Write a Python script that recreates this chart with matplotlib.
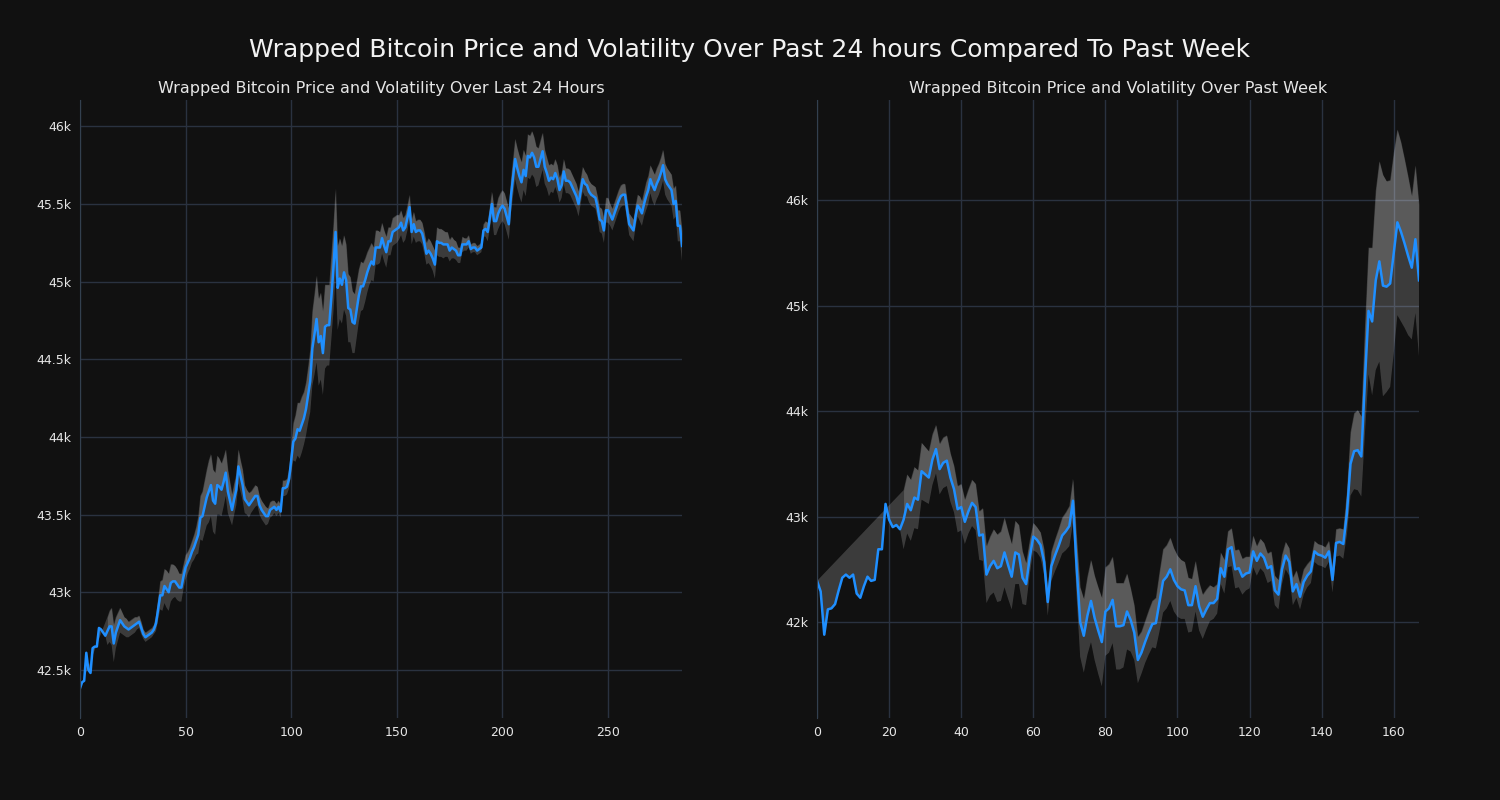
import numpy as np
import matplotlib
matplotlib.use("Agg")
import matplotlib.pyplot as plt
from matplotlib.ticker import MultipleLocator, FuncFormatter

nan = np.nan

# price in thousands of USD, 5-minute steps over the last 24 hours
day_price = [
    42.38, 42.42, 42.43, 42.61, 42.50, 42.48, 42.64, 42.65, 42.65, 42.77,
    42.76, 42.74, 42.72, 42.75, 42.78, 42.78, 42.67, 42.74, 42.78, 42.82,
    42.80, 42.78, 42.77, 42.76, 42.77, 42.78, 42.79, 42.80, 42.81, 42.77,
    42.73, 42.71, 42.72, 42.73, 42.74, 42.76, 42.80, 42.89, 42.98, 42.98,
    43.04, 43.02, 43.00, 43.06, 43.07, 43.07, 43.05, 43.03, 43.03, 43.10,
    43.16, 43.19, 43.22, 43.26, 43.29, 43.33, 43.37, 43.48, 43.49, 43.55,
    43.61, 43.65, 43.69, 43.59, 43.57, 43.69, 43.68, 43.66, 43.71, 43.77,
    43.65, 43.59, 43.53, 43.60, 43.66, 43.81, 43.75, 43.69, 43.60, 43.58,
    43.56, 43.58, 43.60, 43.62, 43.62, 43.56, 43.53, 43.51, 43.49, 43.49,
    43.53, 43.54, 43.55, 43.53, 43.55, 43.52, 43.67, 43.67, 43.68, 43.73,
    43.85, 43.97, 43.99, 44.05, 44.04, 44.08, 44.12, 44.18, 44.27, 44.36,
    44.57, 44.66, 44.76, 44.61, 44.65, 44.54, 44.71, 44.72, 44.72, 44.90,
    45.09, 45.32, 44.96, 45.02, 44.98, 45.06, 45.01, 44.83, 44.82, 44.74,
    44.73, 44.82, 44.91, 44.97, 44.97, 45.01, 45.06, 45.10, 45.13, 45.11,
    45.22, 45.22, 45.22, 45.28, 45.23, 45.19, 45.26, 45.26, 45.32, 45.33,
    45.34, 45.35, 45.38, 45.33, 45.35, 45.41, 45.48, 45.32, 45.37, 45.32,
    45.33, 45.33, 45.31, 45.25, 45.18, 45.20, 45.18, 45.15, 45.11, 45.26,
    45.25, 45.25, 45.24, 45.24, 45.24, 45.20, 45.22, 45.21, 45.20, 45.17,
    45.17, 45.24, 45.24, 45.24, 45.26, 45.21, 45.22, 45.22, 45.20, 45.21,
    45.22, 45.33, 45.34, 45.32, 45.41, 45.50, 45.39, 45.39, 45.44, 45.47,
    45.49, 45.47, 45.42, 45.37, 45.55, 45.67, 45.79, 45.73, 45.68, 45.64,
    45.72, 45.68, 45.81, 45.80, 45.83, 45.80, 45.74, 45.74, 45.79, 45.84,
    45.74, 45.70, 45.65, 45.67, 45.66, 45.70, 45.66, 45.59, 45.62, 45.71,
    45.65, 45.65, 45.64, 45.61, 45.58, 45.55, 45.50, 45.58, 45.66, 45.63,
    45.62, 45.58, 45.56, 45.55, 45.54, 45.48, 45.40, 45.39, 45.33, 45.46,
    45.46, 45.43, 45.40, 45.44, 45.48, 45.52, 45.55, 45.56, 45.56, 45.46,
    45.37, 45.35, 45.33, 45.42, 45.49, 45.47, 45.44, 45.50, 45.55, 45.59,
    45.66, 45.62, 45.59, 45.63, 45.66, 45.70, 45.75, 45.66, 45.63, 45.61,
    45.59, 45.50, 45.52, 45.36, 45.36, 45.23,
]

day_vol = [
    nan, nan, nan, nan, nan, nan, nan, nan, nan, nan, nan, nan, nan,
    0.09, 0.10, 0.12, 0.12, 0.10, 0.09, 0.08, 0.07,
    0.06, 0.06, 0.05, 0.05, 0.05, 0.05, 0.04, 0.04, 0.04, 0.03, 0.03, 0.03, 0.03, 0.03, 0.03,
    0.05, 0.07, 0.09, 0.10, 0.11, 0.12, 0.12, 0.12, 0.11, 0.10,
    0.10, 0.09, 0.09, 0.08, 0.08, 0.07, 0.07, 0.07, 0.08, 0.09,
    0.12, 0.14, 0.16, 0.17, 0.18, 0.20, 0.20, 0.20, 0.20, 0.19, 0.18, 0.17, 0.16, 0.15, 0.14,
    0.12, 0.10, 0.10, 0.10, 0.11, 0.10, 0.10, 0.09,
    0.08, 0.08, 0.07, 0.07, 0.07, 0.06, 0.06, 0.06, 0.06, 0.06, 0.05, 0.05, 0.05, 0.04, 0.04,
    0.04, 0.04,
    0.05, 0.05, 0.05, 0.06, 0.08,
    0.12, 0.15, 0.17, 0.18, 0.18, 0.17, 0.17, 0.18,
    0.20, 0.24, 0.26, 0.28, 0.28, 0.28, 0.27, 0.27, 0.26, 0.26, 0.27, 0.28,
    0.28, 0.27, 0.26, 0.25, 0.24, 0.23, 0.22, 0.21, 0.20, 0.19,
    0.18, 0.17, 0.16, 0.15, 0.14, 0.13, 0.12, 0.12, 0.11, 0.11,
    0.11, 0.10, 0.10, 0.10, 0.10, 0.09, 0.09, 0.09, 0.09, 0.09,
    0.08, 0.08, 0.08, 0.08, 0.08, 0.08, 0.08, 0.08, 0.07, 0.07,
    0.07, 0.07, 0.07, 0.07, 0.08, 0.08, 0.08, 0.09, 0.09, 0.09,
    0.09, 0.09, 0.08, 0.08, 0.07, 0.07, 0.06, 0.06, 0.05, 0.05,
    0.05, 0.04, 0.04, 0.04, 0.03, 0.03, 0.03, 0.03, 0.03, 0.03,
    0.04, 0.05, 0.06, 0.07, 0.08, 0.09, 0.09, 0.10, 0.10, 0.10,
    0.10, 0.10, 0.10, 0.11, 0.12, 0.13, 0.13, 0.13, 0.13, 0.13,
    0.13, 0.14, 0.14, 0.14, 0.13, 0.13, 0.12, 0.12, 0.12, 0.11,
    0.10, 0.10, 0.09, 0.09, 0.09, 0.09, 0.08, 0.08, 0.08, 0.08, 0.08, 0.08, 0.08, 0.08, 0.08,
    0.08, 0.08, 0.08, 0.08, 0.07, 0.07, 0.07, 0.07, 0.07, 0.07, 0.08, 0.08, 0.08, 0.08, 0.08,
    0.07, 0.07, 0.07, 0.07, 0.07, 0.07, 0.07, 0.07, 0.07, 0.07, 0.07, 0.07, 0.07, 0.07, 0.08,
    0.08, 0.08, 0.09, 0.09, 0.09, 0.10, 0.10, 0.10, 0.10, 0.10,
    0.10, 0.10, 0.10, 0.10, 0.10, 0.10, 0.10, 0.10, 0.10, 0.10,
]

# hourly price over the past week
week_price = [
    42.39, 42.29, 41.88, 42.12, 42.13, 42.17, 42.30, 42.42, 42.45, 42.42,
    42.45, 42.27, 42.23, 42.34, 42.43, 42.39, 42.40, 42.69, 42.69, 43.12,
    42.97, 42.90, 42.92, 42.88, 42.97, 43.12, 43.06, 43.18, 43.16, 43.43,
    43.40, 43.37, 43.54, 43.64, 43.45, 43.51, 43.53, 43.37, 43.26, 43.07,
    43.09, 42.95, 43.05, 43.13, 43.09, 42.82, 42.83, 42.45, 42.53, 42.58,
    42.51, 42.53, 42.66, 42.54, 42.43, 42.66, 42.64, 42.42, 42.36, 42.61,
    42.81, 42.78, 42.73, 42.57, 42.19, 42.53, 42.63, 42.72, 42.82, 42.86,
    42.91, 43.15, 42.53, 42.00, 41.87, 42.06, 42.20, 42.04, 41.92, 41.81,
    42.10, 42.13, 42.21, 41.96, 41.96, 41.97, 42.10, 42.02, 41.90, 41.64,
    41.71, 41.81, 41.90, 41.98, 41.99, 42.19, 42.39, 42.43, 42.50, 42.40,
    42.34, 42.31, 42.30, 42.16, 42.16, 42.34, 42.15, 42.05, 42.12, 42.18,
    42.18, 42.22, 42.51, 42.43, 42.69, 42.71, 42.50, 42.51, 42.43, 42.46,
    42.47, 42.67, 42.58, 42.65, 42.61, 42.51, 42.53, 42.30, 42.26, 42.50,
    42.63, 42.57, 42.29, 42.36, 42.24, 42.38, 42.44, 42.48, 42.67, 42.64,
    42.63, 42.61, 42.67, 42.40, 42.75, 42.76, 42.74, 43.03, 43.50, 43.62,
    43.63, 43.57, 44.29, 44.95, 44.85, 45.24, 45.42, 45.19, 45.18, 45.21,
    45.50, 45.79, 45.70, 45.59, 45.47, 45.36, 45.63, 45.24,
]

week_vol = [
    nan, nan, nan, nan, nan, nan, nan, nan, nan, nan, nan, nan,
    nan, nan, nan, nan, nan, nan, nan, nan, nan, nan, nan, nan,
    0.28, 0.28, 0.29, 0.29, 0.28,
    0.27, 0.26, 0.25, 0.24, 0.23, 0.24, 0.24, 0.24,
    0.23, 0.22, 0.22, 0.22, 0.21, 0.21, 0.22, 0.22, 0.23, 0.25,
    0.27, 0.28, 0.30, 0.32, 0.33, 0.33, 0.32, 0.31, 0.30, 0.28, 0.25, 0.20, 0.16, 0.13,
    0.12, 0.12, 0.12, 0.13, 0.14, 0.15, 0.16, 0.17, 0.18, 0.19, 0.21,
    0.28, 0.33, 0.35, 0.37, 0.39, 0.40, 0.41, 0.42, 0.42, 0.42, 0.41, 0.41, 0.41, 0.40,
    0.36, 0.30, 0.26, 0.22, 0.20, 0.20, 0.21,
    0.22, 0.24, 0.28, 0.30, 0.30, 0.30, 0.30, 0.29,
    0.28, 0.27, 0.26, 0.25, 0.24, 0.23, 0.21, 0.19, 0.17, 0.15, 0.14,
    0.15, 0.16, 0.17, 0.18, 0.18, 0.18, 0.17, 0.16, 0.15, 0.15, 0.14, 0.14, 0.14, 0.14, 0.14,
    0.14, 0.14, 0.14, 0.13, 0.13, 0.13, 0.13, 0.12, 0.12, 0.11, 0.11,
    0.10, 0.10, 0.10, 0.10, 0.10, 0.12, 0.13, 0.13, 0.14,
    0.20, 0.30, 0.36, 0.38, 0.38,
    0.50, 0.60, 0.70, 0.85,
    0.95, 1.05, 1.00, 0.98, 0.95,
    0.88, 0.85, 0.80, 0.75, 0.68, 0.70, 0.72,
]

BG = '#111111'
GRID = '#2a3240'
LINE = '#1f8fff'
TXT = '#e6e6e6'


def draw(ax, price, vol, title, ylim, ystep, xstep):
    x = np.arange(len(price))
    p = np.array(price)
    v = np.array(vol)
    up = p + v
    lo = p - np.nan_to_num(v)
    ok = ~np.isnan(up)
    # volatility band, NaN start closes straight to the first value
    ax.fill(np.r_[x[ok], x[::-1]], np.r_[up[ok], lo[::-1]],
            color='white', alpha=0.18, lw=0)
    ax.fill_between(x, p, up, color='white', alpha=0.16, lw=0)
    ax.plot(x, p, color=LINE, lw=1.8)
    ax.set_xlim(0, len(price) - 1)
    ax.set_ylim(*ylim)
    ax.set_facecolor(BG)
    ax.grid(True, color=GRID, lw=1)
    ax.set_axisbelow(True)
    ax.xaxis.set_major_locator(MultipleLocator(xstep))
    ax.yaxis.set_major_locator(MultipleLocator(ystep))
    ax.yaxis.set_major_formatter(FuncFormatter(lambda val, pos: f"{val:g}k"))
    ax.tick_params(length=0, colors=TXT, labelsize=9, pad=6)
    for s in ['top', 'right', 'bottom']:
        ax.spines[s].set_visible(False)
    ax.spines['left'].set_color('#33404f')
    ax.set_title(title, color=TXT, fontsize=11.5, pad=5)


fig = plt.figure(figsize=(15, 8), dpi=100, facecolor=BG)
ax1 = fig.add_axes([0.0533, 0.1025, 0.4014, 0.7725])
ax2 = fig.add_axes([0.5447, 0.1025, 0.4013, 0.7725])

draw(ax1, day_price, day_vol, 'Wrapped Bitcoin Price and Volatility Over Last 24 Hours',
     (42.19, 46.17), 0.5, 50)
draw(ax2, week_price, week_vol, 'Wrapped Bitcoin Price and Volatility Over Past Week',
     (41.09, 46.95), 1, 20)

fig.suptitle('Wrapped Bitcoin Price and Volatility Over Past 24 hours Compared To Past Week',
             color='#f2f2f2', fontsize=18, y=0.952)

fig.savefig('out.png', facecolor=BG)
